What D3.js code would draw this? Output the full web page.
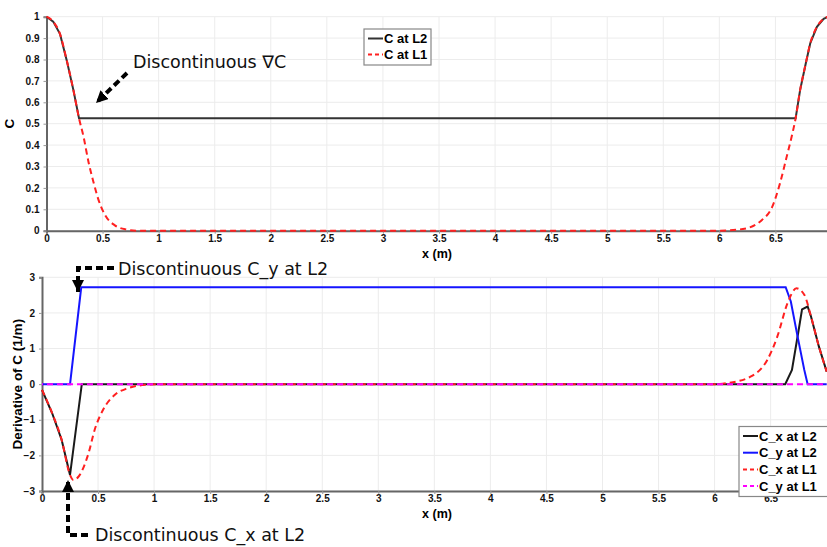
<!DOCTYPE html>
<html>
<head>
<meta charset="utf-8">
<script src="https://cdn.jsdelivr.net/npm/d3@7"></script>
<style>
  body { margin: 0; background: #fff; }
  svg { display: block; font-family: "Liberation Sans", Arial, sans-serif; }
</style>
</head>
<body>
<svg id="chart" width="827" height="547"></svg>
<script>
// valori: [x, valore]
const cAtL2 = [[0,1],[0.06,0.977],[0.12,0.92],[0.18,0.797],[0.24,0.657],[0.29,0.525],
  [6.68,0.525],[6.72,0.657],[6.77,0.78],[6.81,0.875],[6.87,0.953],[6.93,0.99],[6.97,1]];
const cAtL1 = [[0,1],[0.06,0.977],[0.12,0.92],[0.18,0.797],[0.24,0.657],[0.29,0.525],
  [0.33,0.44],[0.375,0.32],[0.42,0.225],[0.46,0.15],[0.52,0.075],[0.61,0.025],[0.715,0.005],[0.8,0],
  [6.0,0],[6.21,0.008],[6.38,0.05],[6.47,0.11],[6.54,0.22],[6.6,0.345],[6.645,0.44],[6.68,0.525],
  [6.72,0.657],[6.77,0.78],[6.81,0.875],[6.87,0.953],[6.93,0.99],[6.97,1]];

const cxAtL2 = [[0,-0.16],[0.09,-0.81],[0.175,-1.56],[0.25,-2.55],[0.355,0],[6.63,0],
  [6.69,0.4],[6.75,1.52],[6.78,2.1],[6.83,2.18],[6.86,1.9],[6.93,1.06],[7.0,0.35]];
const cyAtL2 = [[0,0],[0.25,0],[0.35,2.72],[6.634,2.72],[6.68,2.32],[6.74,1.34],[6.8,0.4],[6.83,0],[7,0]];
const cxAtL1 = [[0,-0.16],[0.09,-0.81],[0.175,-1.56],[0.25,-2.55],[0.28,-2.69],[0.325,-2.6],
  [0.415,-1.94],[0.47,-1.28],[0.545,-0.72],[0.65,-0.3],[0.77,-0.11],[0.92,-0.02],[1.05,0],
  [6.0,0],[6.11,0.03],[6.32,0.21],[6.47,0.68],[6.56,1.34],[6.65,2.27],[6.73,2.69],[6.8,2.51],
  [6.86,1.9],[6.93,1.06],[7.0,0.35]];
const cyAtL1 = [[0,0],[7,0]];

const xTicks = d3.range(0, 7, 0.5);
const yTicksTop = d3.range(0, 1.01, 0.1);
const yTicksBottom = [-3, -2, -1, 0, 1, 2, 3];

const svg = d3.select("#chart");

// frecce
const defs = svg.append("defs");
defs.append("marker")
  .attr("id", "head")
  .attr("markerUnits", "userSpaceOnUse")
  .attr("viewBox", "0 0 10 10")
  .attr("refX", 10).attr("refY", 5)
  .attr("markerWidth", 12).attr("markerHeight", 12)
  .attr("orient", "auto")
  .append("path")
  .attr("d", "M0,0 L10,5 L0,10 Z")
  .attr("fill", "#000");

function drawPanel(cfg) {
  const x = d3.scaleLinear().domain([0, 7]).range(cfg.xRange);
  const y = d3.scaleLinear().domain(cfg.yDomain).range(cfg.yRange);
  const g = svg.append("g");

  // griglia
  g.selectAll(".vgrid").data(xTicks.slice(1)).enter().append("line")
    .attr("x1", d => x(d)).attr("x2", d => x(d))
    .attr("y1", cfg.yRange[0]).attr("y2", cfg.yRange[1])
    .attr("stroke", "#ececec").attr("stroke-width", 1);
  g.selectAll(".hgrid").data(cfg.yTicks).enter().append("line")
    .attr("x1", cfg.xRange[0]).attr("x2", 827)
    .attr("y1", d => y(d)).attr("y2", d => y(d))
    .attr("stroke", "#ececec").attr("stroke-width", 1);

  // assi
  const xAxis = g.append("g")
    .attr("transform", `translate(0,${cfg.yRange[0]})`)
    .call(d3.axisBottom(x).tickValues(xTicks).tickSize(3).tickFormat(d3.format("")));
  const yAxis = g.append("g")
    .attr("transform", `translate(${cfg.xRange[0]},0)`)
    .call(d3.axisLeft(y).tickValues(cfg.yTicks).tickSize(3).tickFormat(d3.format("")));
  [xAxis, yAxis].forEach(a => {
    a.select(".domain").attr("stroke", "#666").attr("stroke-width", 2);
    a.selectAll(".tick line").attr("stroke", "#999");
    a.selectAll("text").attr("font-size", 10).attr("font-weight", "bold")
      .attr("font-family", "Liberation Sans, Arial, sans-serif").attr("fill", "#111");
  });
  xAxis.selectAll("text").attr("dy", "0.5em");
  yAxis.selectAll("text").attr("dx", "-0.1em");

  g.append("text")
    .attr("x", 437).attr("y", cfg.yRange[0] + 27)
    .attr("text-anchor", "middle")
    .attr("font-size", 12.5).attr("font-weight", "bold")
    .text("x (m)");
  g.append("text")
    .attr("transform", `translate(${cfg.yLabelX},${(cfg.yRange[0] + cfg.yRange[1]) / 2}) rotate(-90)`)
    .attr("text-anchor", "middle")
    .attr("font-size", 13.5).attr("font-weight", "bold")
    .text(cfg.yLabel);

  cfg.series.forEach(s => {
    const line = d3.line()
      .x(d => x(d[0])).y(d => y(d[1]))
      .curve(s.smooth ? d3.curveMonotoneX : d3.curveLinear);
    g.append("path")
      .datum(s.data)
      .attr("d", line)
      .attr("fill", "none")
      .attr("stroke", s.color)
      .attr("stroke-width", 2)
      .attr("stroke-dasharray", s.dash || null)
      .attr("stroke-dashoffset", s.offset || 0);
  });

  // legenda
  const lg = g.append("g");
  lg.append("rect")
    .attr("x", cfg.legend[0]).attr("y", cfg.legend[1])
    .attr("width", cfg.legend[2]).attr("height", cfg.legend[3])
    .attr("fill", "#fff").attr("stroke", "#888").attr("stroke-width", 1.2);
  cfg.series.forEach((s, i) => {
    const yy = cfg.legend[1] + 9.5 + i * cfg.legendStep;
    lg.append("line")
      .attr("x1", cfg.legend[0] + 4).attr("x2", cfg.legend[0] + 19)
      .attr("y1", yy).attr("y2", yy)
      .attr("stroke", s.color).attr("stroke-width", 2)
      .attr("stroke-dasharray", s.dash ? "4,3" : null);
    lg.append("text")
      .attr("x", cfg.legend[0] + 20).attr("y", yy + 4.5)
      .attr("font-size", 13).attr("font-weight", "bold")
      .text(s.name);
  });
}

drawPanel({
  xRange: [46.5, 831.5], yDomain: [0, 1], yRange: [230.7, 16.7],
  yTicks: yTicksTop, yLabel: "C", yLabelX: 14,
  legend: [364, 29, 67, 36], legendStep: 16,
  series: [
    { name: "C at L2", data: cAtL2, color: "#333" },
    { name: "C at L1", data: cAtL1, color: "#ff2020", dash: "6,4", smooth: true }
  ]
});

drawPanel({
  xRange: [42, 826.7], yDomain: [-3, 3], yRange: [491, 277.3],
  yTicks: yTicksBottom, yLabel: "Derivative of C (1/m)", yLabelX: 22,
  legend: [739, 426.5, 92, 70], legendStep: 16.7,
  series: [
    { name: "C_x at L2", data: cxAtL2, color: "#1a1a1a" },
    { name: "C_y at L2", data: cyAtL2, color: "#1515ff" },
    { name: "C_x at L1", data: cxAtL1, color: "#ff2020", dash: "6,4", smooth: true },
    { name: "C_y at L1", data: cyAtL1, color: "#ff00ff", dash: "6,4", offset: 5 }
  ]
});

// annotazioni
function arrow(points) {
  svg.append("path")
    .attr("d", d3.line()(points))
    .attr("fill", "none")
    .attr("stroke", "#000")
    .attr("stroke-width", 4)
    .attr("stroke-dasharray", "7,4")
    .attr("marker-end", "url(#head)");
}
arrow([[127, 73], [96, 103]]);
arrow([[114, 268], [78, 268], [78, 292]]);
arrow([[88, 535], [68, 535], [68, 480]]);

const notes = [
  { text: "Discontinuous \u2207C", x: 133, y: 68 },
  { text: "Discontinuous C_y at L2", x: 118, y: 275 },
  { text: "Discontinuous C_x at L2", x: 95, y: 541 }
];
svg.selectAll(".note").data(notes).enter().append("text")
  .attr("x", d => d.x).attr("y", d => d.y)
  .attr("font-family", "DejaVu Sans, sans-serif")
  .attr("font-size", 17.5)
  .attr("fill", "#111")
  .text(d => d.text);
</script>
</body>
</html>
